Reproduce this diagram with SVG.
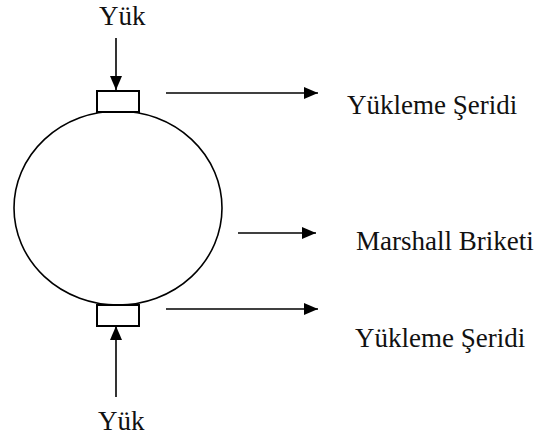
<svg xmlns="http://www.w3.org/2000/svg" width="539" height="437" viewBox="0 0 539 437">
  <style>
    .shape { fill: #fff; stroke: #000; }
    .line { stroke: #000; stroke-width: 1.6; fill: none; }
    .label { font-family: "Liberation Serif", "Times New Roman", serif; font-size: 27px; fill: #111; }
  </style>
  <defs>
    <marker id="head" viewBox="0 0 14 12" refX="14" refY="6" markerWidth="14" markerHeight="12" markerUnits="userSpaceOnUse" orient="auto">
      <path d="M0,0 L14,6 L0,12 Z" fill="#000"/>
    </marker>
  </defs>
  <rect width="539" height="437" fill="#fff"/>

  <g id="specimen">
    <ellipse class="shape" cx="118" cy="208" rx="104" ry="97" stroke-width="1.6"/>
  </g>
  <g id="top-strip">
    <rect class="shape" x="97" y="91" width="42" height="21" stroke-width="2"/>
  </g>
  <g id="bottom-strip">
    <rect class="shape" x="97" y="305" width="42" height="21" stroke-width="2"/>
  </g>

  <g id="labels">
    <text class="label" x="99" y="25">Yük</text>
    <text class="label" x="98" y="430">Yük</text>
    <text class="label" x="347" y="114">Yükleme Şeridi</text>
    <text class="label" x="356" y="250">Marshall Briketi</text>
    <text class="label" x="355" y="347">Yükleme Şeridi</text>
  </g>

  <g id="connectors">
    <line class="line" x1="116" y1="38" x2="116" y2="90" marker-end="url(#head)"/>
    <line class="line" x1="116" y1="397" x2="116" y2="326" marker-end="url(#head)"/>
    <line class="line" x1="166" y1="93" x2="318" y2="93" marker-end="url(#head)"/>
    <line class="line" x1="238" y1="233" x2="316" y2="233" marker-end="url(#head)"/>
    <line class="line" x1="166" y1="309" x2="318" y2="309" marker-end="url(#head)"/>
  </g>
</svg>
